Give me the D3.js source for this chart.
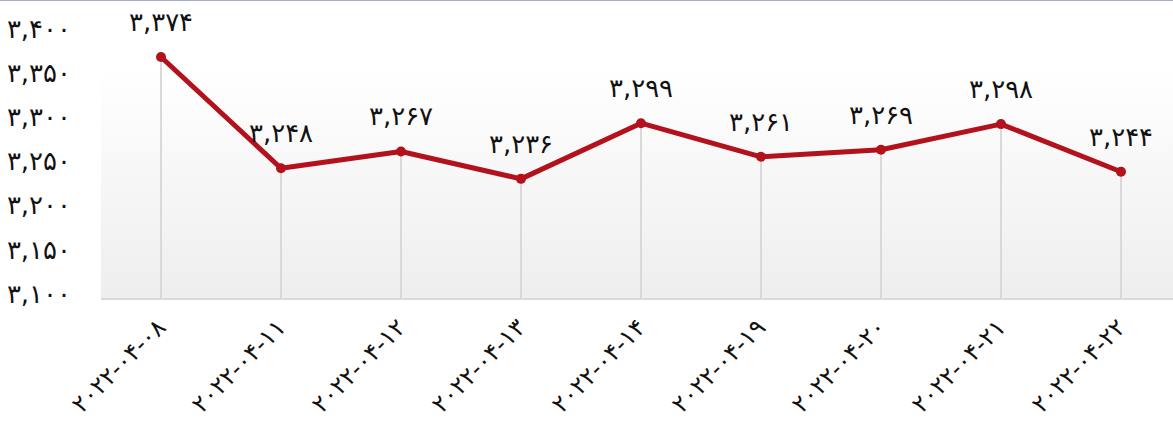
<!DOCTYPE html>
<html><head><meta charset="utf-8">
<script src="https://cdn.jsdelivr.net/npm/d3@7"></script>
<style>
html,body{margin:0;padding:0;background:#fff;}
svg{display:block;}
text{font-family:"DejaVu Sans",sans-serif;fill:#111;}
</style></head>
<body>
<svg id="chart" width="1173" height="421"></svg>
<script>
const categories = ["2022-04-08","2022-04-11","2022-04-12","2022-04-13","2022-04-14","2022-04-19","2022-04-20","2022-04-21","2022-04-22"];
const values = [3374, 3248, 3267, 3236, 3299, 3261, 3269, 3298, 3244];
const yTicks = [3100, 3150, 3200, 3250, 3300, 3350, 3400];

const fa = s => String(s).replace(/[0-9]/g, d => "۰۱۲۳۴۵۶۷۸۹"[+d]);
const fmt = v => fa(d3.format(",")(v));

const W = 1173, H = 421;
const left = 101, bottom = 299, plotTop = 65;
const svg = d3.select("#chart");

const x = d3.scaleBand().domain(categories).range([101, 1181]);
const xc = d => x(d) + x.bandwidth() / 2;
const y = d3.scaleLinear().domain([3100, 3400]).range([bottom, 34]);

const defs = svg.append("defs");
const g = defs.append("linearGradient").attr("id","bg").attr("x1",0).attr("y1",0).attr("x2",0).attr("y2",1);
g.append("stop").attr("offset","0%").attr("stop-color","#ffffff");
g.append("stop").attr("offset","100%").attr("stop-color","#eeeeee");

svg.append("rect").attr("x",0).attr("y",0).attr("width",W).attr("height",1).attr("fill","#a3adc4");
svg.append("rect").attr("x",left).attr("y",plotTop).attr("width",W-left).attr("height",bottom-plotTop).attr("fill","url(#bg)");

// drop lines
svg.append("g").selectAll("line").data(categories).join("line")
  .attr("x1", d => xc(d)).attr("x2", d => xc(d))
  .attr("y1", (d,i) => y(values[i])).attr("y2", bottom)
  .attr("stroke","#d9d9d9").attr("stroke-width",2);

// bottom axis line
svg.append("line").attr("x1",left).attr("x2",W).attr("y1",bottom).attr("y2",bottom)
  .attr("stroke","#dadada").attr("stroke-width",2);

// y axis labels
const yAxis = d3.axisLeft(y).tickValues(yTicks).tickFormat(fmt).tickSize(0).tickPadding(0);
const ya = svg.append("g").attr("transform","translate(71,-5)").call(yAxis);
ya.select(".domain").remove();
ya.selectAll("text").attr("font-size",26).attr("font-weight","normal").attr("fill","#111");

// x axis labels
const xAxis = d3.axisBottom(x).tickFormat(fa).tickSize(0).tickPadding(0);
const xa = svg.append("g").attr("transform",`translate(0,${bottom})`).call(xAxis);
xa.select(".domain").remove();
xa.selectAll("text").attr("font-size",24).attr("font-weight","normal").attr("fill","#111")
  .attr("text-anchor","end").attr("dy",0)
  .attr("transform","translate(6,30) rotate(-45)");

// line
const line = d3.line().x((d,i) => xc(categories[i])).y(d => y(d));
svg.append("path").datum(values).attr("d", line).attr("fill","none")
  .attr("stroke","#b3121c").attr("stroke-width",5).attr("stroke-linejoin","round");

svg.append("g").selectAll("circle").data(values).join("circle")
  .attr("cx",(d,i)=>xc(categories[i])).attr("cy",d=>y(d)).attr("r",5).attr("fill","#b3121c");

// value labels
svg.append("g").selectAll("text").data(values).join("text")
  .attr("x",(d,i)=>xc(categories[i])).attr("y",d=>y(d)-26)
  .attr("text-anchor","middle").attr("font-size",26).attr("font-weight","normal").text(fmt);
</script>
</body></html>
